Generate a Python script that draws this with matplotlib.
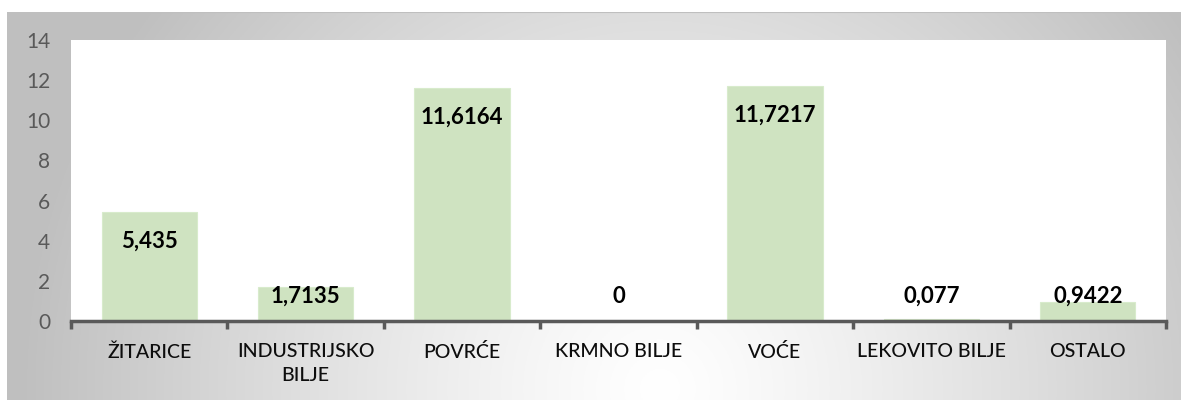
import numpy as np
import matplotlib.pyplot as plt

plt.rcParams['font.family'] = ['Lato', 'DejaVu Sans']

categories = ['ŽITARICE', 'INDUSTRIJSKO\nBILJE', 'POVRĆE', 'KRMNO BILJE',
              'VOĆE', 'LEKOVITO BILJE', 'OSTALO']
values = [5.435, 1.7135, 11.6164, 0, 11.7217, 0.077, 0.9422]
value_labels = ['5,435', '1,7135', '11,6164', '0', '11,7217', '0,077', '0,9422']
yticks = [0, 2, 4, 6, 8, 10, 12, 14]

W, H = 1181, 403
fig = plt.figure(figsize=(W / 100, H / 100), dpi=100)

# gray radial background of the chart area
bg = fig.add_axes([7 / W, 3 / H, 1 - 7 / W, (400 - 12) / H])
bx = np.linspace(7, W, 600)
by = np.linspace(12, 400, 200)
X, Y = np.meshgrid(bx, by)
r = np.sqrt(((X - 660) / 640) ** 2 + ((Y - 390) / 640) ** 2)
r = np.clip(r, 0, 1)
g = 1 - r ** 1.2 * 0.25
bg.imshow(np.dstack([g, g, g]), extent=[0, 1, 0, 1], aspect='auto', origin='upper')
bg.axhline(1, color='#bfbfbf', lw=1.5)
bg.set_xlim(0, 1)
bg.set_ylim(0, 1)
bg.axis('off')

ax = fig.add_axes([71 / W, (H - 321) / H, (1166 - 71) / W, (321 - 40) / H])
ax.set_facecolor('white')
x = np.arange(len(categories))
ax.bar(x, values, width=0.61, color='#cfe3c1', edgecolor='#d8ebcc', linewidth=0.8)

for xi, v, lab in zip(x, values, value_labels):
    ax.text(xi, max(v - 1.45, 1.22), lab, ha='center', va='center',
            fontsize=16, fontweight='bold', color='black')

ax.set_xlim(-0.5, len(categories) - 0.5)
ax.set_ylim(0, 14)
ax.set_yticks(yticks)
ax.set_yticklabels([str(t) for t in yticks])
ax.tick_params(axis='y', length=0, pad=15, labelsize=15, labelcolor='#595959')

ax.set_xticks(x)
ax.set_xticklabels(categories, linespacing=1.5, fontweight='medium')
ax.set_xticks(np.arange(-0.5, len(categories)), minor=True)
ax.tick_params(axis='x', which='major', length=0, pad=16, labelsize=14,
               labelcolor='#0d0d0d')
ax.tick_params(axis='x', which='minor', length=6, width=2.5, color='#595959')

for s in ['left', 'right', 'top']:
    ax.spines[s].set_visible(False)
ax.spines['bottom'].set_color('#595959')
ax.spines['bottom'].set_linewidth(2.5)

fig.savefig('out.png', dpi=100)
